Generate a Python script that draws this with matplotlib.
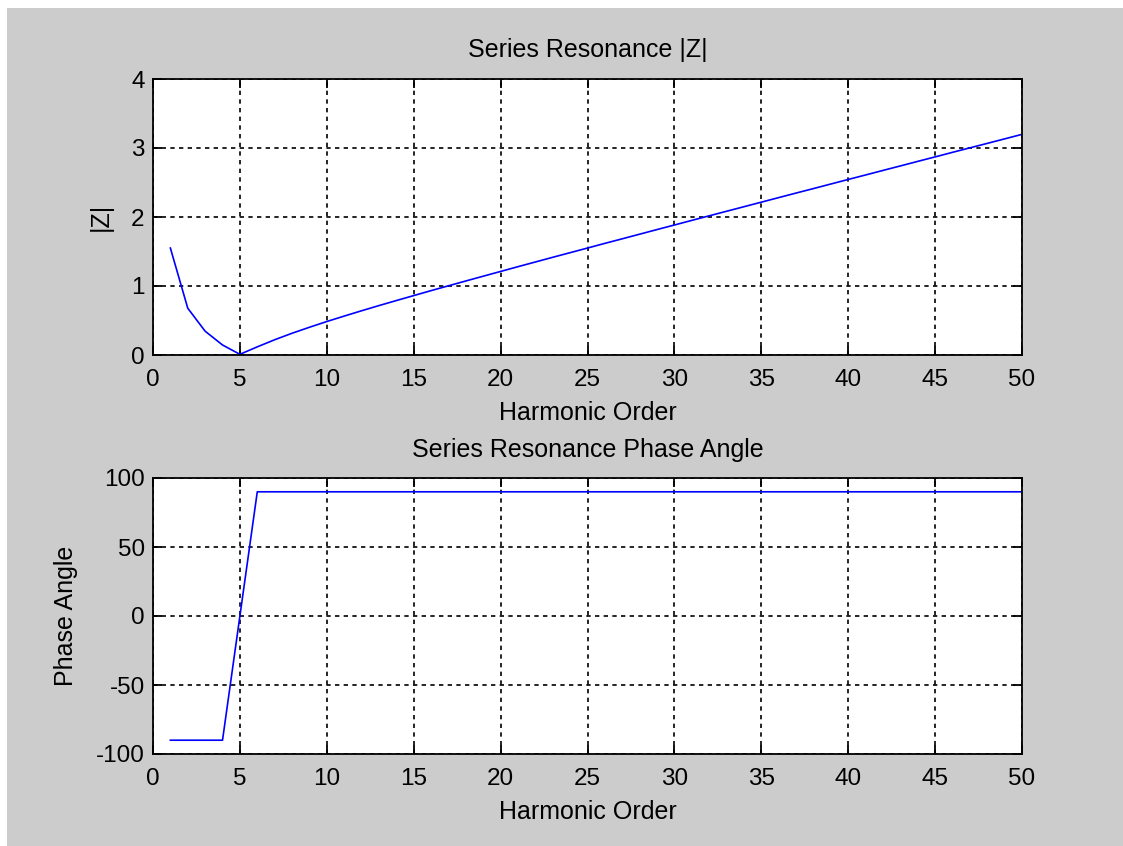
import matplotlib
matplotlib.use("Agg")
import matplotlib.pyplot as plt
from matplotlib.patches import Rectangle

plt.rcParams['font.family'] = ['Liberation Sans', 'DejaVu Sans']
plt.rcParams['axes.unicode_minus'] = False

harmonic = list(range(1, 51))
z_mag = [1.550, 0.678, 0.345, 0.145, 0.010, 0.118, 0.221, 0.315, 0.402, 0.485,
         0.564, 0.641, 0.716, 0.789, 0.861, 0.933, 1.003, 1.073, 1.142, 1.211,
         1.280, 1.348, 1.416, 1.483, 1.550, 1.618, 1.684, 1.751, 1.818, 1.884,
         1.951, 2.017, 2.083, 2.149, 2.215, 2.281, 2.347, 2.412, 2.478, 2.544,
         2.609, 2.675, 2.740, 2.806, 2.871, 2.937, 3.002, 3.067, 3.132, 3.198]
phase = [-90, -90, -90, -90, 0] + [90] * 45

xticks = list(range(0, 55, 5))
z_ticks = [0, 1, 2, 3, 4]
ph_ticks = [-100, -50, 0, 50, 100]

W, H = 1123, 846
fig = plt.figure(figsize=(W / 100, H / 100), dpi=100, facecolor='white')
fig.patches.append(Rectangle((7 / W, 0), 1, (H - 8) / H, transform=fig.transFigure,
                             facecolor='#cccccc', edgecolor='none', zorder=-10))

tick_fs = 17.5
lab_fs = 18

def style(ax):
    ax.set_facecolor('white')
    for s in ax.spines.values():
        s.set_linewidth(1.3)
        s.set_color('black')
    ax.tick_params(direction='in', length=6.5, width=1.3, top=True, right=True,
                   labelsize=tick_fs, colors='black')
    ax.tick_params(axis='x', pad=10)
    ax.tick_params(axis='y', pad=6)
    ax.grid(True, color='black', linestyle=(0, (2.6, 2.6)), linewidth=1.2)
    ax.set_axisbelow(True)

ax1 = fig.add_axes([153 / W, 1 - 355 / H, 869 / W, 276 / H])
ax1.plot(harmonic, z_mag, color='blue', linewidth=1.2)
ax1.set_xlim(0, 50)
ax1.set_ylim(0, 4)
ax1.set_xticks(xticks)
ax1.set_yticks(z_ticks)
style(ax1)
ax1.set_title('Series Resonance |Z|', fontsize=lab_fs, pad=16)
ax1.set_xlabel('Harmonic Order', fontsize=lab_fs, labelpad=7)
ax1.set_ylabel('|Z|', fontsize=lab_fs, labelpad=13)

ax2 = fig.add_axes([153 / W, 1 - 754 / H, 869 / W, 276 / H])
ax2.plot(harmonic, phase, color='blue', linewidth=1.2)
ax2.set_xlim(0, 50)
ax2.set_ylim(-100, 100)
ax2.set_xticks(xticks)
ax2.set_yticks(ph_ticks)
style(ax2)
ax2.set_title('Series Resonance Phase Angle', fontsize=lab_fs, pad=15)
ax2.set_xlabel('Harmonic Order', fontsize=lab_fs, labelpad=7)
ax2.set_ylabel('Phase Angle', fontsize=lab_fs, labelpad=13)

fig.savefig('out.png', dpi=100, facecolor=fig.get_facecolor())
